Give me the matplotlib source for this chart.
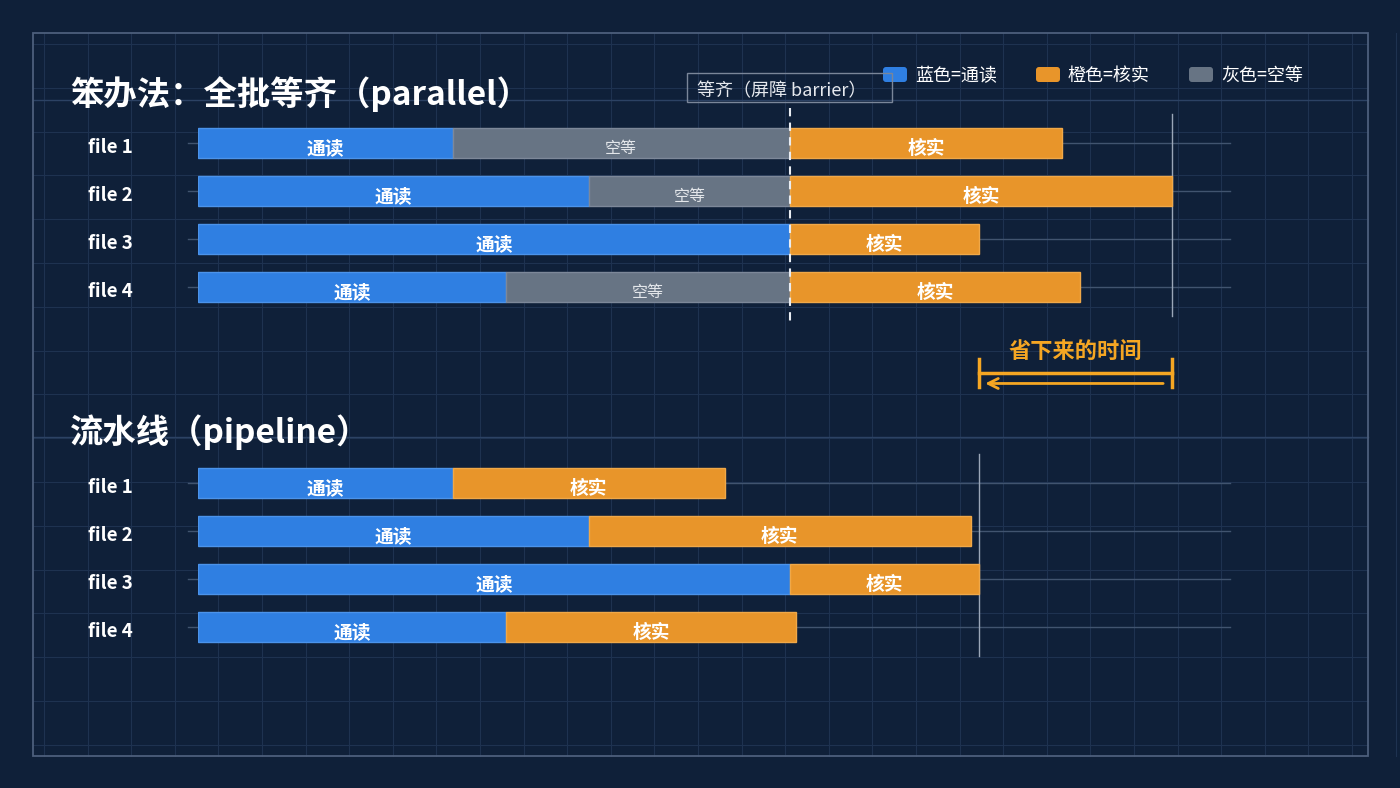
import numpy as np
import matplotlib.pyplot as plt
from matplotlib.patches import Rectangle, FancyBboxPatch

plt.rcParams['font.family'] = ['Noto Sans CJK SC', 'DejaVu Sans']

files = ['file 1', 'file 2', 'file 3', 'file 4']
read_time = [4.3, 6.6, 10.0, 5.2]
check_time = [4.6, 6.45, 3.2, 4.9]

BG = '#0f2039'
BLUE = '#2f7fe2'
ORANGE = '#e8952a'
GRAY = '#677484'
ANNOT = '#f5a623'
W, H = 1400, 788
PX_PER_UNIT = 59.2

fig = plt.figure(figsize=(14, 7.88), dpi=100, facecolor=BG)

# background grid in pixel coordinates
bg = fig.add_axes([0, 0, 1, 1])
bg.set_xlim(0, W)
bg.set_ylim(H, 0)
bg.axis('off')
bg.set_facecolor(BG)
for gx in np.arange(44, W, 43.6):
    bg.plot([gx, gx], [33, 756], color='#1e3250', lw=0.8, zorder=0)
for gy in np.arange(44, H, 43.8):
    bg.plot([33, 1368], [gy, gy], color='#1e3250', lw=0.8, zorder=0)
for gy in [100, 437]:
    bg.plot([33, 1368], [gy, gy], color='#2c4264', lw=1.0, zorder=0)
bg.add_patch(Rectangle((33, 33), 1335, 723, fill=False, ec='#4d5f7c', lw=1.3))

# titles
bg.text(70, 94, '笨办法：全批等齐（parallel）', color='white', fontsize=24,
        fontweight='bold', va='center')
bg.text(70, 432, '流水线（pipeline）', color='white', fontsize=24,
        fontweight='bold', va='center')

# legend
for lx, col, lab in [(883, BLUE, '蓝色=通读'), (1036, ORANGE, '橙色=核实'), (1189, GRAY, '灰色=空等')]:
    bg.add_patch(FancyBboxPatch((lx, 67), 24, 15, boxstyle='round,pad=0,rounding_size=3',
                                fc=col, ec='none'))
    bg.text(lx + 32, 76, lab, color='white', fontsize=13, va='center')

# barrier label box
bg.add_patch(Rectangle((687, 73), 205, 29, fill=False, ec='#7a8699', lw=1))
bg.text(697, 91, '等齐（屏障 barrier）', color='#e6e9ee', fontsize=13, va='center')


def make_axes(top_px):
    # rows spaced 48 px, axis covers row -0.5 .. 3.5
    ax = fig.add_axes([198 / W, 1 - (top_px + 192) / H, (1230 - 198) / W, 192 / H])
    ax.set_xlim(0, (1230 - 198) / PX_PER_UNIT)
    ax.set_ylim(3.5, -0.5)
    ax.axis('off')
    ax.patch.set_alpha(0)
    y = np.arange(len(files))
    for i in y:
        ax.plot([-0.17, ax.get_xlim()[1]], [i, i], color='#41546f', lw=1,
                clip_on=False, zorder=1)
        ax.text(-1.48, i + 0.1, files[i], color='white', fontsize=13.5, fontweight='bold',
                ha='center', va='center')
    return ax, y


barrier = max(read_time)
bh = 0.63
dy = 0.12

# parallel
ax1, y = make_axes(119)
ax1.barh(y, read_time, height=bh, color=BLUE, ec='#4b93ea', lw=1, zorder=3)
wait = [barrier - r for r in read_time]
ax1.barh(y, wait, left=read_time, height=bh, color=GRAY, ec='#7d8899', lw=1, zorder=3)
ax1.barh(y, check_time, left=barrier, height=bh, color=ORANGE, ec='#f0a848', lw=1, zorder=3)
for i in y:
    ax1.text(read_time[i] / 2, i + dy, '通读', color='white', fontsize=13.5,
             fontweight='bold', ha='center', va='center', zorder=4)
    if wait[i] > 0:
        ax1.text(read_time[i] + wait[i] / 2, i + dy, '空等', color='#e3e6ea',
                 fontsize=11.5, ha='center', va='center', zorder=4)
    ax1.text(barrier + check_time[i] / 2, i + dy, '核实', color='white', fontsize=13.5,
             fontweight='bold', ha='center', va='center', zorder=4)
ax1.plot([barrier, barrier], [-0.72, 3.72], color='#e8ecf2', lw=1.5, ls=(0, (4, 3)),
         clip_on=False, zorder=5)
end_par = max(barrier + c for c in check_time)
ax1.plot([end_par, end_par], [-0.6, 3.6], color='#9aa6b8', lw=1, clip_on=False, zorder=2)

# pipeline
ax2, y = make_axes(459)
ax2.barh(y, read_time, height=bh, color=BLUE, ec='#4b93ea', lw=1, zorder=3)
ax2.barh(y, check_time, left=read_time, height=bh, color=ORANGE, ec='#f0a848', lw=1, zorder=3)
for i in y:
    ax2.text(read_time[i] / 2, i + dy, '通读', color='white', fontsize=13.5,
             fontweight='bold', ha='center', va='center', zorder=4)
    ax2.text(read_time[i] + check_time[i] / 2, i + dy, '核实', color='white', fontsize=13.5,
             fontweight='bold', ha='center', va='center', zorder=4)
end_pipe = max(r + c for r, c in zip(read_time, check_time))
ax2.plot([end_pipe, end_pipe], [-0.6, 3.6], color='#9aa6b8', lw=1, clip_on=False, zorder=2)

# saved time annotation (drawn in top axes data coords, below rows)
ya = 4.79
ax1.plot([end_pipe, end_par], [ya, ya], color=ANNOT, lw=2.5, clip_on=False)
for xe in [end_pipe, end_par]:
    ax1.plot([xe, xe], [ya - 0.3, ya + 0.3], color=ANNOT, lw=2.5, clip_on=False)
ax1.annotate('', xy=(end_pipe + 0.05, ya + 0.22), xytext=(end_par - 0.1, ya + 0.22),
             arrowprops=dict(arrowstyle='->', color=ANNOT, lw=2, mutation_scale=18),
             annotation_clip=False)
ax1.text((end_pipe + end_par) / 2, ya - 0.45, '省下来的时间', color=ANNOT, fontsize=16,
         fontweight='bold', ha='center', va='center')

fig.savefig('out.png', dpi=100, facecolor=BG)
